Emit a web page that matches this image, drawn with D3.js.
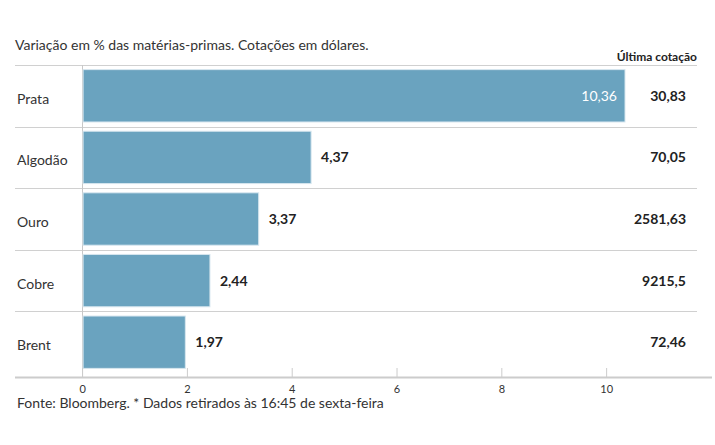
<!DOCTYPE html>
<html>
<head>
<meta charset="utf-8">
<script src="https://cdn.jsdelivr.net/npm/d3@7"></script>
<style>
  body { margin: 0; background: #fff; }
  svg { font-family: Lato, "Noto Sans", sans-serif; }
</style>
</head>
<body>
<div id="chart"></div>
<script>
var categories = ["Prata", "Algodão", "Ouro", "Cobre", "Brent"];
var changes = [10.36, 4.37, 3.37, 2.44, 1.97];
var lastQuotes = ["30,83", "70,05", "2581,63", "9215,5", "72,46"];
var tickValues = [0, 2, 4, 6, 8, 10];

var width = 715, height = 445;
var fmt = function (v) { return d3.format(".2f")(v).replace(".", ","); };

var svg = d3.select("#chart").append("svg")
    .attr("width", width)
    .attr("height", height);

var x = d3.scaleLinear()
    .domain([-1.28, 12.02])
    .range([15, 712]);

var y = d3.scaleBand()
    .domain(categories)
    .range([65, 373])
    .paddingInner(0.15)
    .paddingOuter(0.075);

// title
svg.append("text")
    .attr("x", 15)
    .attr("y", 50)
    .style("font-size", "14px")
    .style("fill", "#333")
    .text("Variação em % das matérias-primas. Cotações em dólares.");

svg.append("text")
    .attr("x", 697)
    .attr("y", 61)
    .attr("text-anchor", "end")
    .style("font-size", "12px")
    .style("font-weight", "bold")
    .style("fill", "#222")
    .text("Última cotação");

// row separators
svg.selectAll(".sep").data(categories)
  .enter().append("line")
    .attr("class", "sep")
    .attr("x1", 15)
    .attr("x2", 697)
    .attr("y1", function (d) { return Math.round(y(d) - y.step() * 0.075) + 0.5; })
    .attr("y2", function (d) { return Math.round(y(d) - y.step() * 0.075) + 0.5; })
    .style("stroke", "#d0d0d0");

// zero line
svg.append("line")
    .attr("x1", Math.round(x(0)) + 0.5)
    .attr("x2", Math.round(x(0)) + 0.5)
    .attr("y1", 65)
    .attr("y2", 377)
    .style("stroke", "#c8c8c8");

// bars
svg.selectAll(".bar").data(categories)
  .enter().append("rect")
    .attr("class", "bar")
    .attr("x", x(0) + 1)
    .attr("y", function (d) { return y(d); })
    .attr("width", function (d, i) { return x(changes[i]) - x(0) - 1; })
    .attr("height", y.bandwidth())
    .style("fill", "#6aa3bf")
    .style("stroke", "#d7e7ef")
    .style("stroke-width", 1);

// value labels
svg.selectAll(".val").data(categories)
  .enter().append("text")
    .attr("class", "val")
    .attr("x", function (d, i) { return changes[i] > 8 ? x(changes[i]) - 8 : x(changes[i]) + 10; })
    .attr("y", function (d) { return y(d) + y.bandwidth() / 2 + 5; })
    .attr("text-anchor", function (d, i) { return changes[i] > 8 ? "end" : "start"; })
    .style("font-size", "14px")
    .style("font-weight", function (d, i) { return changes[i] > 8 ? "normal" : "bold"; })
    .style("fill", function (d, i) { return changes[i] > 8 ? "#fff" : "#222"; })
    .text(function (d, i) { return fmt(changes[i]); });

// category labels
svg.selectAll(".cat").data(categories)
  .enter().append("text")
    .attr("class", "cat")
    .attr("x", 17)
    .attr("y", function (d) { return y(d) + y.bandwidth() / 2 + 8; })
    .style("font-size", "14px")
    .style("fill", "#333")
    .text(function (d) { return d; });

// last quote column
svg.selectAll(".quote").data(categories)
  .enter().append("text")
    .attr("class", "quote")
    .attr("x", 686)
    .attr("y", function (d) { return y(d) + y.bandwidth() / 2 + 5; })
    .attr("text-anchor", "end")
    .style("font-size", "14px")
    .style("font-weight", "bold")
    .style("fill", "#222")
    .text(function (d, i) { return lastQuotes[i]; });

// x axis
var xaxis = svg.append("g")
    .attr("transform", "translate(0,377)")
    .call(d3.axisTop(x).tickValues(tickValues).tickSize(9).tickFormat(d3.format("d")));
xaxis.select(".domain").remove();
xaxis.selectAll(".tick line").style("stroke", "#ccc");
xaxis.selectAll(".tick text")
    .attr("y", 16)
    .attr("dy", "0")
    .style("font-size", "11px")
    .style("font-family", "Lato, 'Noto Sans', sans-serif")
    .style("fill", "#333");

svg.append("line")
    .attr("x1", 15)
    .attr("x2", 712)
    .attr("y1", 377.5)
    .attr("y2", 377.5)
    .style("stroke", "#ccc")
    .style("stroke-width", 2);

// footer
svg.append("text")
    .attr("x", 17)
    .attr("y", 408)
    .style("font-size", "14px")
    .style("fill", "#333")
    .text("Fonte: Bloomberg.  * Dados retirados às 16:45 de sexta-feira");
</script>
</body>
</html>
